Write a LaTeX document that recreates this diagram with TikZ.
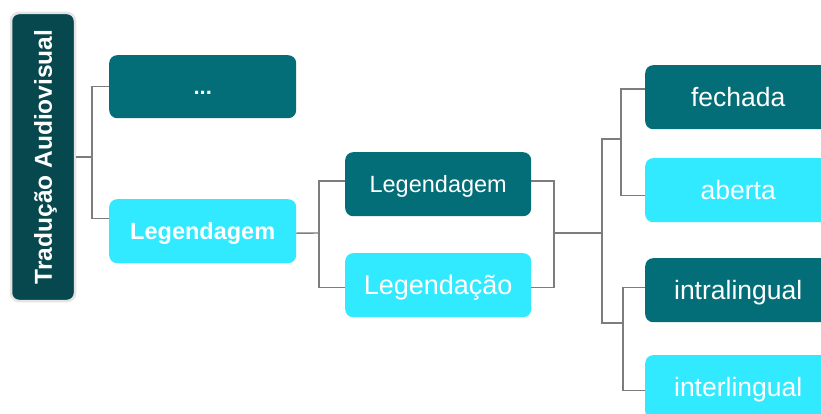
\documentclass[tikz,border=0pt]{standalone}
\usepackage{fontspec}
\setmainfont{Liberation Sans}
\definecolor{rootc}{RGB}{6,72,78}
\definecolor{darkc}{RGB}{4,110,120}
\definecolor{lightc}{RGB}{50,234,255}
\definecolor{linec}{RGB}{125,125,125}
\definecolor{rimc}{RGB}{228,228,228}
\begin{document}
\begin{tikzpicture}[x=1pt,y=-1pt,
  box/.style={rounded corners=8pt, minimum width=187pt, minimum height=63pt, inner sep=0pt,
              text depth=0pt, text=white, anchor=north west},
  dk/.style={box, fill=darkc},
  lt/.style={box, fill=lightc},
  link/.style={draw=linec, line width=1.4pt}]
\useasboundingbox (0,0) rectangle (821,414);
\clip (0,0) rectangle (821,414);
\fill[white] (0,0) rectangle (821,414);
% root
\node[rotate=90, fill=rootc, draw=rimc, line width=2.5pt, rounded corners=8pt,
      minimum width=288pt, minimum height=64pt, inner sep=0pt, text=white,
      text depth=0pt,
      font=\bfseries\fontsize{24.5}{25}\selectfont] (root) at (43,157) {Tradução Audiovisual};
% level 1
\node[dk, text height=16pt, font=\bfseries\fontsize{22}{22}\selectfont] (dots) at (109,55) {...};
\node[lt, minimum height=64pt, font=\bfseries\fontsize{23.5}{24}\selectfont] (leg1) at (109,199) {Legendagem};
% level 2
\node[dk, minimum width=186pt, minimum height=64pt, font=\fontsize{23.5}{24}\selectfont] (leg2) at (345,152) {Legendagem};
\node[lt, minimum width=186pt, minimum height=64pt, font=\fontsize{27}{28}\selectfont] (leg3) at (345,253) {Legendação};
% level 3
\node[dk, minimum width=186pt, minimum height=64pt, font=\fontsize{26.5}{27}\selectfont] (fech) at (645,65) {fechada};
\node[lt, minimum width=186pt, minimum height=64pt, font=\fontsize{26.5}{27}\selectfont] (aber) at (645,158) {aberta};
\node[dk, minimum width=186pt, minimum height=64pt, font=\fontsize{26.5}{27}\selectfont] (intra) at (645,258) {intralingual};
\node[lt, minimum width=186pt, minimum height=64pt, font=\fontsize{26.5}{27}\selectfont] (inter) at (645,355) {interlingual};
% connectors
\coordinate (j1) at (92,157);
\draw[link] (root.south) -- (j1);
\draw[link] (dots.west) -| (j1) |- ([yshift=13pt]leg1.west);
\coordinate (j2) at (319,233);
\draw[link] ([yshift=-2pt]leg1.east) -- (j2);
\draw[link] ([yshift=3pt]leg2.west) -| (j2) |- ([yshift=-2pt]leg3.west);
\coordinate (j3) at (554,233);
\draw[link] ([yshift=3pt]leg2.east) -| (j3) |- ([yshift=-2pt]leg3.east);
\coordinate (j4) at (602,233);
\draw[link] (j3) -- (j4);
\coordinate (j5) at (621,139);
\coordinate (j6) at (623,323);
\draw[link] (j5) -| (j4) |- (j6);
\draw[link] ([yshift=8pt]fech.west) -| (j5) |- ([yshift=-5pt]aber.west);
\draw[link] ([yshift=3pt]intra.west) -| (j6) |- ([yshift=-3pt]inter.west);
\end{tikzpicture}
\end{document}
